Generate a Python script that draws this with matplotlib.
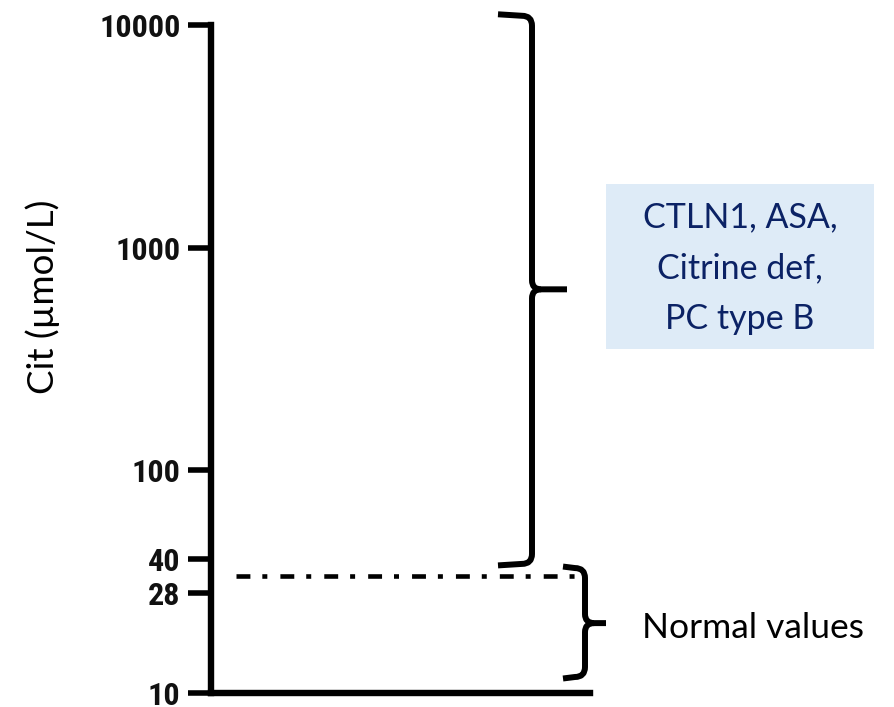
import matplotlib
matplotlib.use('Agg')
import matplotlib.pyplot as plt
from matplotlib.path import Path
from matplotlib.patches import PathPatch, Rectangle
from matplotlib.transforms import IdentityTransform
from matplotlib import font_manager
from matplotlib.font_manager import FontProperties

# ---- data ----
tick_values = [10, 28, 40, 100, 1000, 10000]
tick_labels = ['10', '28', '40', '100', '1000', '10000']
normal_upper = 33.5                 # dash-dot threshold line
big_range = (38, 11000)             # brace: pathological range
big_tip = 650
small_range = (11.8, 36.4)          # brace: normal range
small_tip = 20.6
big_label = 'CTLN1, ASA,\nCitrine def,\nPC type B'
small_label = 'Normal values'
y_label = 'Cit (µmol/L)'


def pick_condensed_bold():
    prefs = ['LiberationSansNarrow-Bold', 'RobotoCondensed-Bold', 'Roboto Condensed',
             'DejaVuSansCondensed-Bold', 'OpenSansCondensed-Bold', 'OpenSans_Condensed-Bold',
             'Condensed-Bold', 'CondensedBold', 'Narrow-Bold', 'NarrowBold']
    files = [f.fname for f in font_manager.fontManager.ttflist]
    for p in prefs:
        for fn in files:
            base = fn.split('/')[-1]
            if p.replace(' ', '') in base and 'Italic' not in base:
                if 'Bold' in base or 'bold' in base:
                    return FontProperties(fname=fn)
    try:
        fp = FontProperties(family='Roboto', weight='bold', stretch='condensed')
        fn = font_manager.findfont(fp, fallback_to_default=False)
        if 'ondensed' in fn:
            return FontProperties(fname=fn)
    except Exception:
        pass
    return FontProperties(family='Liberation Sans', weight='bold')


W, H = 894, 707
fig = plt.figure(figsize=(W / 100, H / 100), dpi=100)
plt.rcParams['lines.scale_dashes'] = False

# fit tick-label font size so that "10000" is ~80 px wide
tick_fp = pick_condensed_bold()
probe = fig.text(0, 0, '10000', fontproperties=tick_fp, fontsize=20)
fig.canvas.draw()
pw = probe.get_window_extent().width
probe.remove()
tick_size = min(25, 20 * 81 / pw)
tick_fp = tick_fp.copy()
tick_fp.set_size(tick_size)

ax_l, ax_r, ax_t, ax_b = 211, 590, 25, 693
ax = fig.add_axes([ax_l / W, (H - ax_b) / H, (ax_r - ax_l) / W, (ax_b - ax_t) / H])
ax.set_yscale('log')
ax.set_ylim(10, 10000)
ax.set_xlim(ax_l, ax_r)
ax.patch.set_alpha(0)

for s in ['top', 'right']:
    ax.spines[s].set_visible(False)
for s in ['left', 'bottom']:
    ax.spines[s].set_linewidth(4.6)
    ax.spines[s].set_capstyle('projecting')
ax.set_xticks([])
ax.set_yticks(tick_values)
ax.yaxis.set_minor_locator(matplotlib.ticker.NullLocator())
ax.set_yticklabels(tick_labels, fontproperties=tick_fp, color='#111111')
ax.tick_params(axis='y', length=16.5, width=4.0, pad=5.5, direction='out')

ax.set_ylabel(y_label, fontfamily='Lato', fontsize=26.5, color='black')
ax.yaxis.label.set_va('center')
ax.yaxis.set_label_coords((43 - ax_l) / (ax_r - ax_l), (ax_b - 297) / (ax_b - ax_t))

# threshold dash-dot line
ax.hlines(normal_upper, 236, 576, colors='black', linewidth=3.3,
          linestyles=(0, (10, 8.6, 3.6, 9.4)), clip_on=False)


# ---- braces ----
def brace(xv, xh, xt, ylo, yhi, ytip, r=10, r2=9, lw=4.3):
    T = ax.transData
    xv_p = T.transform((xv, ytip))[0]
    xh_p = T.transform((xh, ytip))[0]
    xt_p = T.transform((xt, ytip))[0]
    yt = T.transform((xv, yhi))[1]
    yb = T.transform((xv, ylo))[1]
    ym = T.transform((xv, ytip))[1]
    top = [(xh_p, yt + 1.5), (xv_p - r, yt), (xv_p, yt), (xv_p, yt - r),
           (xv_p, ym + r2), (xv_p, ym), (xv_p + r2, ym), (xt_p, ym)]
    ct = [Path.MOVETO, Path.LINETO, Path.CURVE3, Path.CURVE3,
          Path.LINETO, Path.CURVE3, Path.CURVE3, Path.LINETO]
    bot = [(xv_p + r2, ym), (xv_p, ym), (xv_p, ym - r2), (xv_p, yb + r),
           (xv_p, yb), (xv_p - r, yb), (xh_p, yb - 1.5)]
    cb = [Path.MOVETO, Path.CURVE3, Path.CURVE3, Path.LINETO,
          Path.CURVE3, Path.CURVE3, Path.LINETO]
    for v, c in ((top, ct), (bot, cb)):
        fig.patches.append(PathPatch(Path(v, c), transform=IdentityTransform(),
                                     facecolor='none', edgecolor='black',
                                     linewidth=lw, capstyle='butt',
                                     joinstyle='round', figure=fig))


brace(532, 498, 567, big_range[0], big_range[1], big_tip)
brace(585, 563, 606, small_range[0], small_range[1], small_tip)

# ---- label box ----
bx0, by0, bx1, by1 = 606, 184, 874, 349
fig.patches.append(Rectangle((bx0 / W, 1 - by1 / H), (bx1 - bx0) / W, (by1 - by0) / H,
                             transform=fig.transFigure, facecolor='#DEEBF7',
                             edgecolor='none', figure=fig))
fig.text(740 / W, 1 - 268 / H, big_label, ha='center', va='center',
         fontfamily='Lato', fontsize=24.5, color='#0B2265', linespacing=1.72)
fig.text(642 / W, 1 - 628 / H, small_label, ha='left', va='center',
         fontfamily='Lato', fontsize=25.5, color='black')

fig.savefig('out.png', dpi=100)
